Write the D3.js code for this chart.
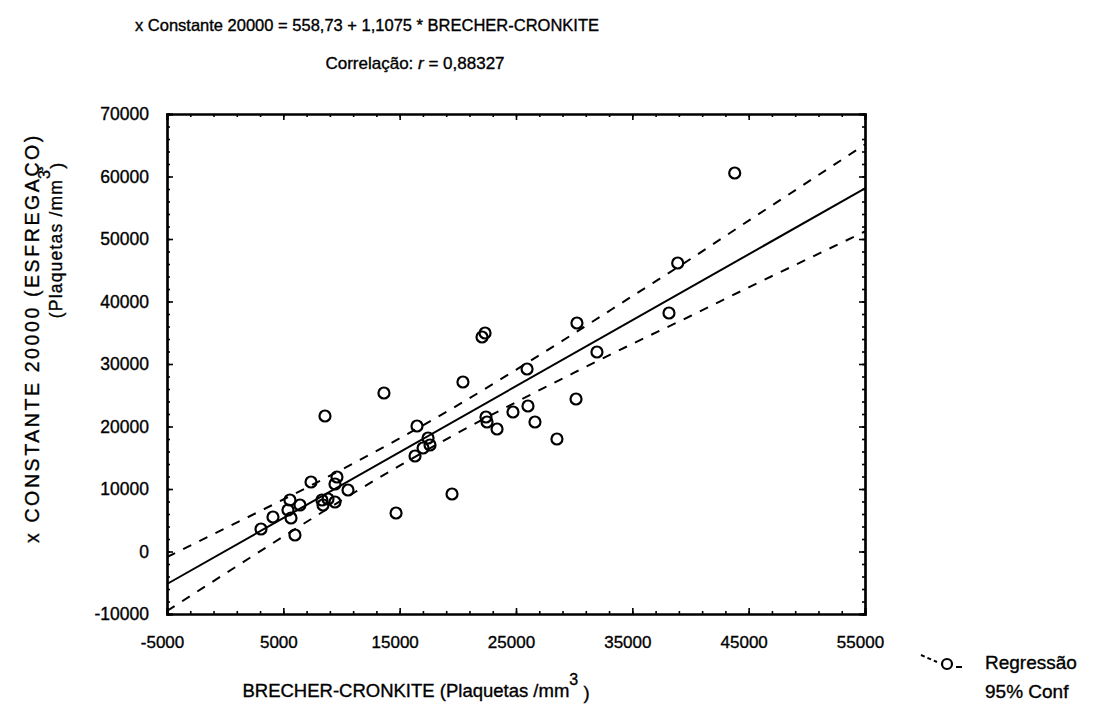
<!DOCTYPE html>
<html>
<head>
<meta charset="utf-8">
<script src="https://cdn.jsdelivr.net/npm/d3@7"></script>
<style>
  body { margin: 0; background: #fff; }
  svg { display: block; }
  text { font-family: "Liberation Sans", Arial, sans-serif; fill: #000; stroke: #000; stroke-width: 0.35px; }
</style>
</head>
<body>
<svg id="chart" width="1106" height="708"></svg>
<script>
// tick labels
var xTicks = [-5000, 5000, 15000, 25000, 35000, 45000, 55000];
var yTicks = [-10000, 0, 10000, 20000, 30000, 40000, 50000, 60000, 70000];

// observations: BRECHER-CRONKITE vs x CONSTANTE 20000
var obsX = [43800, 38900, 38150, 30240, 31960, 22340, 22080, 25950, 20440, 13650,
            8580, 30160, 16490, 22420, 22510, 23370, 24740, 26030, 26630, 28520,
            17440, 17610, 17010, 16320, 19500, 14690, 7380, 9610, 9440, 10560,
            6430, 5570, 8320, 8840, 9440, 8410, 5400, 5660, 4110, 3080, 6000];
var obsY = [60560, 46160, 38160, 36560, 31920, 34960, 34320, 29200, 27120, 25360,
            21680, 24400, 20080, 21520, 20720, 19600, 22320, 23280, 20720, 18000,
            18160, 17040, 16560, 15280, 9200, 6160, 11120, 11920, 10800, 9840,
            7440, 8240, 8240, 8400, 7920, 7440, 6640, 5360, 5520, 3600, 2640];

// regression line (as drawn)
var lineX = [-5000, 55000];
var lineY = [-5200, 58100];

// 95% confidence band
var bandX = [-5000, 0, 5000, 10000, 15000, 20000, 25000, 30000, 35000, 40000, 45000, 50000, 55000];
var bandUpper = [-880, 3700, 8320, 13090, 18100, 23420, 29070, 34910, 40860, 46800, 52940, 59020, 65120];
var bandLower = [-9520, -3540, 2400, 8190, 13740, 18980, 23890, 28610, 33220, 37680, 42260, 46740, 51200];

var svg = d3.select("#chart");
var plotLeft = 167, plotRight = 865, plotTop = 114, plotBottom = 614;

var x = d3.scaleLinear().domain([-5000, 55000]).range([plotLeft, plotRight]);
var y = d3.scaleLinear().domain([-10000, 70000]).range([plotBottom, plotTop]);

var xMinor = d3.range(-5000, 55001, 2000);
var yMinor = d3.range(-10000, 70001, 2000);
var plainNum = function (d) { return String(d); };

function frameAxis(g) {
    g.selectAll("path.domain").attr("stroke", "#000").attr("stroke-width", 2.2);
    g.selectAll("line").attr("stroke", "#000").attr("stroke-width", 1.6);
}

// minor ticks (all four sides)
svg.append("g").attr("transform", "translate(0," + plotBottom + ")")
    .call(d3.axisBottom(x).tickValues(xMinor).tickSize(-3).tickFormat(""))
    .call(frameAxis);
svg.append("g").attr("transform", "translate(0," + plotTop + ")")
    .call(d3.axisTop(x).tickValues(xMinor).tickSize(-3).tickFormat(""))
    .call(frameAxis);
svg.append("g").attr("transform", "translate(" + plotLeft + ",0)")
    .call(d3.axisLeft(y).tickValues(yMinor).tickSize(-3).tickFormat(""))
    .call(frameAxis);
svg.append("g").attr("transform", "translate(" + plotRight + ",0)")
    .call(d3.axisRight(y).tickValues(yMinor).tickSize(-3).tickFormat(""))
    .call(frameAxis);

// major ticks with labels
var xAxis = svg.append("g").attr("transform", "translate(0," + plotBottom + ")")
    .call(d3.axisBottom(x).tickValues(xTicks).tickSize(-6).tickPadding(31).tickFormat(plainNum))
    .call(frameAxis);
xAxis.selectAll("text").style("font-size", "17px").attr("dy", "0.2em").attr("dx", "-5");

var yAxis = svg.append("g").attr("transform", "translate(" + plotLeft + ",0)")
    .call(d3.axisLeft(y).tickValues(yTicks).tickSize(-6).tickPadding(18).tickFormat(plainNum))
    .call(frameAxis);
yAxis.selectAll("text").style("font-size", "17.5px");

svg.append("g").attr("transform", "translate(0," + plotTop + ")")
    .call(d3.axisTop(x).tickValues(xTicks).tickSize(-6).tickFormat(""))
    .call(frameAxis);
svg.append("g").attr("transform", "translate(" + plotRight + ",0)")
    .call(d3.axisRight(y).tickValues(yTicks).tickSize(-6).tickFormat(""))
    .call(frameAxis);

// confidence band
var bandLine = d3.line().curve(d3.curveMonotoneX);
svg.append("path")
    .attr("d", bandLine(bandX.map(function (d, i) { return [x(d), y(bandUpper[i])]; })))
    .attr("fill", "none").attr("stroke", "#000").attr("stroke-width", 2)
    .attr("stroke-dasharray", "9,9");
svg.append("path")
    .attr("d", bandLine(bandX.map(function (d, i) { return [x(d), y(bandLower[i])]; })))
    .attr("fill", "none").attr("stroke", "#000").attr("stroke-width", 2)
    .attr("stroke-dasharray", "9,9");

// regression line
svg.append("path")
    .attr("d", d3.line()(lineX.map(function (d, i) { return [x(d), y(lineY[i])]; })))
    .attr("fill", "none").attr("stroke", "#000").attr("stroke-width", 2);

// points
svg.append("g").selectAll("circle")
    .data(obsX)
    .join("circle")
    .attr("cx", function (d) { return x(d); })
    .attr("cy", function (d, i) { return y(obsY[i]); })
    .attr("r", 5.5)
    .attr("fill", "none")
    .attr("stroke", "#000")
    .attr("stroke-width", 2.2);

// titles
svg.append("text").attr("x", 367).attr("y", 31).attr("text-anchor", "middle")
    .style("font-size", "16.5px")
    .text("x Constante 20000 = 558,73 + 1,1075 * BRECHER-CRONKITE");
var t2 = svg.append("text").attr("x", 415).attr("y", 69).attr("text-anchor", "middle")
    .style("font-size", "17px");
t2.append("tspan").text("Correlação: ");
t2.append("tspan").style("font-style", "italic").text("r");
t2.append("tspan").text(" = 0,88327");

// x axis title
var xt = svg.append("text").attr("x", 416).attr("y", 697).attr("text-anchor", "middle")
    .style("font-size", "18.5px");
xt.append("tspan").text("BRECHER-CRONKITE (Plaquetas /mm");
xt.append("tspan").attr("dy", "-0.75em").style("font-size", "16px").text("3");
xt.append("tspan").attr("dy", "0.75em").text(" )");

// y axis titles
svg.append("text").attr("transform", "translate(39,338) rotate(-90)")
    .attr("text-anchor", "middle").style("font-size", "19.5px").style("letter-spacing", "2.6px")
    .text("x CONSTANTE 20000 (ESFREGAÇO)");
var yt = svg.append("text").attr("transform", "translate(62,240) rotate(-90)")
    .attr("text-anchor", "middle").style("font-size", "17.5px").style("letter-spacing", "1.2px");
yt.append("tspan").text("(Plaquetas /mm");
yt.append("tspan").attr("dy", "-0.75em").style("font-size", "16px").text("3");
yt.append("tspan").attr("dy", "0.75em").text(")");

// legend
var lg = svg.append("g");
lg.append("line").attr("x1", 921).attr("y1", 655).attr("x2", 937).attr("y2", 662)
    .attr("stroke", "#000").attr("stroke-width", 2).attr("stroke-dasharray", "4,3");
lg.append("circle").attr("cx", 947).attr("cy", 664).attr("r", 5)
    .attr("fill", "none").attr("stroke", "#000").attr("stroke-width", 2.2);
lg.append("line").attr("x1", 956).attr("y1", 667).attr("x2", 962).attr("y2", 667)
    .attr("stroke", "#000").attr("stroke-width", 2);
lg.append("text").attr("x", 985).attr("y", 669).style("font-size", "19px").text("Regressão");
lg.append("text").attr("x", 985).attr("y", 698).style("font-size", "19px").text("95% Conf");
</script>
</body>
</html>
